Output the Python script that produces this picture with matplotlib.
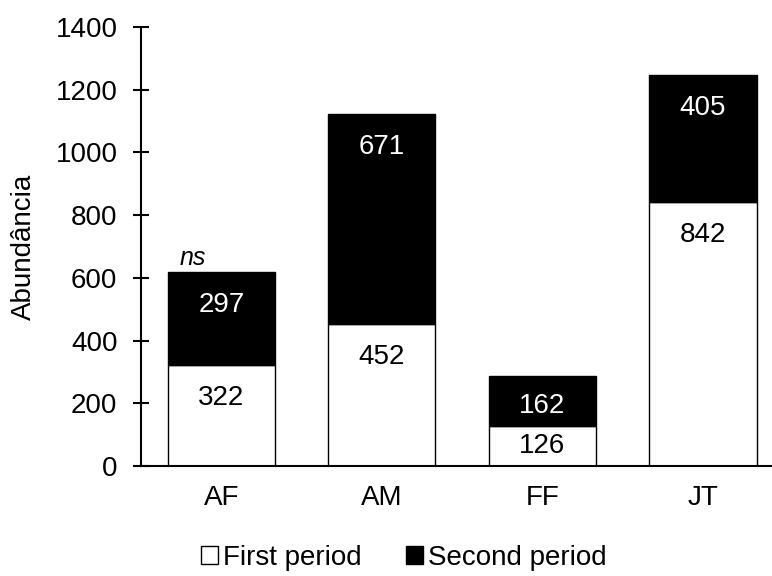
import numpy as np
import matplotlib
matplotlib.use("Agg")
import matplotlib.pyplot as plt

plt.rcParams['font.family'] = ['Liberation Sans', 'DejaVu Sans']

categories = ["AF", "AM", "FF", "JT"]
first_period = [322, 452, 126, 842]
second_period = [297, 671, 162, 405]

fig = plt.figure(figsize=(7.72, 5.76), dpi=100)
ax = fig.add_axes([141 / 772, 110 / 576, 1 - 141 / 772, 439 / 576])

x = np.arange(len(categories))
w = 0.667
ax.bar(x, first_period, w, color="white", edgecolor="black", linewidth=1.0,
       label="First period")
ax.bar(x, second_period, w, bottom=first_period, color="black",
       edgecolor="black", linewidth=1.0, label="Second period")

# value labels, near the top of each segment
off = 105
for i in range(len(x)):
    b1, v1 = 0, first_period[i]
    y1 = max(b1 + v1 - off, b1 + v1 / 2)
    ax.text(x[i], y1, str(v1), ha="center", va="center", fontsize=20, color="black")
    b2, v2 = first_period[i], second_period[i]
    y2 = max(b2 + v2 - off, b2 + v2 / 2 - 15)
    ax.text(x[i], y2, str(v2), ha="center", va="center", fontsize=20, color="white")

ax.text(-0.18, 663, "ns", ha="center", va="center", fontsize=18, style="italic")

ax.set_xlim(-0.5, 3.43)
ax.set_ylim(0, 1400)
ax.set_yticks(range(0, 1401, 200))
ax.set_xticks(x)
ax.set_xticklabels(categories)
ax.tick_params(axis="y", direction="inout", length=12, width=1.5, labelsize=20, pad=11)
ax.tick_params(axis="x", length=0, labelsize=20, pad=14)
for s in ["top", "right"]:
    ax.spines[s].set_visible(False)
ax.spines["left"].set_linewidth(1.5)
ax.spines["bottom"].set_linewidth(1.5)
ax.set_ylabel("Abundância", fontsize=20)
ax.yaxis.set_label_coords((37 - 141) / 631, 0.5)

fig.legend(loc="center", bbox_to_anchor=(404 / 772, 1 - 558 / 576),
           ncol=2, frameon=False, fontsize=20, handlelength=0.6, handleheight=0.6,
           handletextpad=0.2, columnspacing=1.6)

fig.savefig("out.png", dpi=100)
